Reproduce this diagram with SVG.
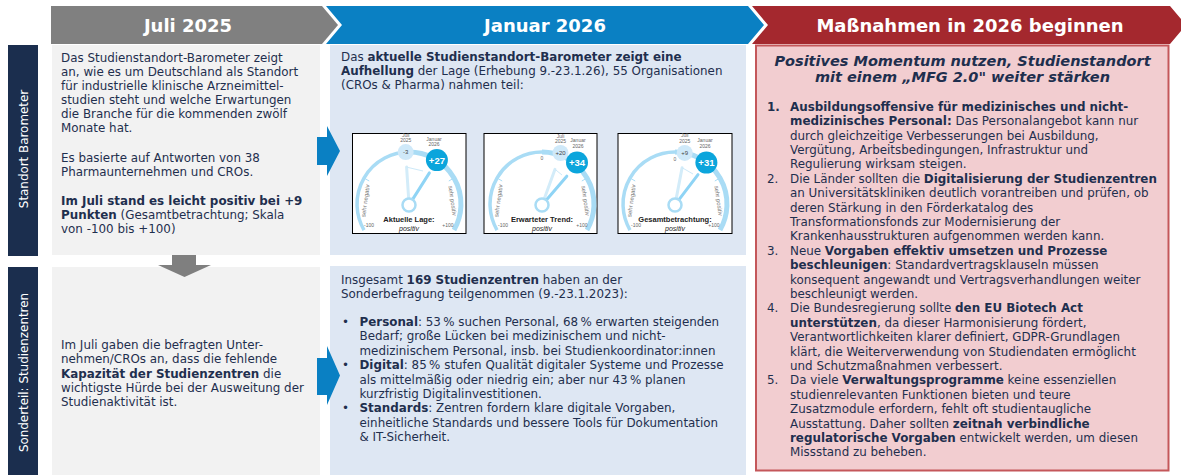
<svg xmlns="http://www.w3.org/2000/svg" width="1181" height="475" viewBox="0 0 1181 475">
<style>
.t{font-family:"DejaVu Sans",Verdana,sans-serif;font-size:11.9px;fill:#1f2f4e}
.b{font-weight:bold}
.hd{font-family:"DejaVu Sans",sans-serif;font-size:18px;font-weight:bold;fill:#fff;text-anchor:middle}
.vl{font-family:"DejaVu Sans",sans-serif;font-size:11.9px;fill:#fff;text-anchor:middle}
.ti{font-family:"DejaVu Sans",sans-serif;font-size:14.5px;font-weight:bold;font-style:italic;fill:#1f2f4e;text-anchor:middle}
.gbox{fill:#fff;stroke:#000;stroke-width:1}
.arcL{fill:none;stroke:#a9dcf5;stroke-width:3.5}
.arcR{fill:none;stroke:#a9dcf5;stroke-width:5}
.tick{stroke:#a9dcf5;stroke-width:1}
.gs{font-family:"Liberation Sans",Arial,sans-serif;font-size:5px;fill:#666;text-anchor:middle}
.gl{font-family:"Liberation Sans",Arial,sans-serif;font-size:6px;fill:#777;text-anchor:middle}
.old{stroke:#d3ecf9;stroke-width:3;stroke-linecap:round}
.mv{stroke:#cde9f8;stroke-width:1}
.new{stroke:#8fd4f5;stroke-width:3;stroke-linecap:round}
.hub{fill:#fff;stroke:#a9dcf5;stroke-width:2.5}
.sb{fill:#cfe9f9}
.bb{fill:#0ba5dc}
.sbt{font-family:"Liberation Sans",Arial,sans-serif;font-size:6px;fill:#444;text-anchor:middle}
.bbt{font-family:"Liberation Sans",Arial,sans-serif;font-size:9.5px;font-weight:bold;fill:#fff;text-anchor:middle}
.gt{font-family:"Liberation Sans",Arial,sans-serif;font-size:7.5px;font-weight:bold;fill:#222;text-anchor:middle}
.gp{font-family:"Liberation Sans",Arial,sans-serif;font-size:7px;font-style:italic;fill:#222;text-anchor:middle}
</style>

<!-- Header chevrons -->
<g id="header-juli">
<polygon points="51,6 322,6 338,25 322,44 51,44" fill="#808080"/>
<text class="hd" x="188" y="31.5">Juli 2025</text>
</g>
<g id="header-januar">
<polygon points="326,6 748,6 764,25 748,44 326,44 342,25" fill="#0a80c3"/>
<text class="hd" x="545" y="31.5">Januar 2026</text>
</g>
<g id="header-massnahmen">
<polygon points="752,6 1170,6 1186,25 1170,44 752,44 768,25" fill="#a4282e"/>
<text class="hd" x="970" y="31.5">Maßnahmen in 2026 beginnen</text>
</g>

<!-- Row labels -->
<g id="label-barometer">
<rect x="8" y="45" width="30" height="211" fill="#1b2e4e"/>
<text class="vl" transform="translate(27.5,149) rotate(-90)">Standort Barometer</text>
</g>
<g id="label-sonderteil">
<rect x="8" y="267" width="30" height="208" fill="#1b2e4e"/>
<text class="vl" transform="translate(27.5,372.5) rotate(-90)">Sonderteil: Studienzentren</text>
</g>

<!-- Left top panel -->
<g id="juli-barometer">
<rect x="52" y="45" width="268" height="210" fill="#f2f2f2"/>
<text class="t" x="61" y="62.3">Das Studienstandort-Barometer zeigt</text>
<text class="t" x="61" y="76.2">an, wie es um Deutschland als Standort</text>
<text class="t" x="61" y="90.1">für industrielle klinische Arzneimittel-</text>
<text class="t" x="61" y="104">studien steht und welche Erwartungen</text>
<text class="t" x="61" y="117.9">die Branche für die kommenden zwölf</text>
<text class="t" x="61" y="131.8">Monate hat.</text>
<text class="t" x="61" y="162.3">Es basierte auf Antworten von 38</text>
<text class="t" x="61" y="176.2">Pharmaunternehmen und CROs.</text>
<text class="t b" x="61" y="205.4">Im Juli stand es leicht positiv bei +9</text>
<text class="t" x="61" y="219.3"><tspan class="b">Punkten</tspan> (Gesamtbetrachtung; Skala</text>
<text class="t" x="61" y="233.2">von -100 bis +100)</text>
</g>

<!-- Left bottom panel -->
<g id="juli-studienzentren">
<rect x="52" y="267" width="268" height="208" fill="#f2f2f2"/>
<text class="t" x="61" y="349">Im Juli gaben die befragten Unter-</text>
<text class="t" x="61" y="363.3">nehmen/CROs an, dass die fehlende</text>
<text class="t" x="61" y="377.5"><tspan class="b">Kapazität der Studienzentren</tspan> die</text>
<text class="t" x="61" y="391.7">wichtigste Hürde bei der Ausweitung der</text>
<text class="t" x="61" y="406">Studienaktivität ist.</text>
</g>

<!-- Middle top panel -->
<g id="januar-barometer">
<rect x="330" y="45" width="416" height="210" fill="#dee7f3"/>
<text class="t" x="341" y="60.7">Das <tspan class="b">aktuelle Studienstandort-Barometer zeigt eine</tspan></text>
<text class="t" x="341" y="75"><tspan class="b">Aufhellung</tspan> der Lage (Erhebung 9.-23.1.26), 55 Organisationen</text>
<text class="t" x="341" y="89.3">(CROs &amp; Pharma) nahmen teil:</text>
</g>

<!-- Gauge 1 -->
<g id="gauge-aktuelle-lage">
<rect class="gbox" x="352.5" y="133.5" width="113.5" height="100"/>
<path class="arcL" d="M364 230 A52 52 0 0 1 409 152"/>
<path class="arcR" d="M409 152 A52 52 0 0 1 454 230"/>
<line class="tick" x1="364" y1="178" x2="369.2" y2="181"/>
<line class="tick" x1="454" y1="178" x2="448.8" y2="181"/>
<text class="gs" x="369" y="227">-100</text>
<text class="gs" x="448" y="227">+100</text>
<text class="gl" transform="translate(367.5,201) rotate(-82)">sehr negativ</text>
<text class="gl" transform="translate(450.5,201) rotate(82)">sehr positiv</text>
<line class="old" x1="408.6" y1="198" x2="406.6" y2="167.1"/>
<line class="mv" x1="406.6" y1="167.1" x2="423" y2="171"/>
<line class="new" x1="412.8" y1="199.1" x2="429.4" y2="172.9"/>
<circle class="hub" cx="409" cy="205" r="6.5"/>
<circle class="sb" cx="405.7" cy="152.1" r="8"/>
<text class="sbt" x="405.7" y="154.2">-3</text>
<circle class="bb" cx="436.9" cy="160.1" r="11"/>
<text class="bbt" x="436.9" y="163.5">+27</text>
<text class="gs" x="405.7" y="136.5">Juli</text>
<text class="gs" x="405.7" y="142">2025</text>
<text class="gs" x="434" y="140.5">Januar</text>
<text class="gs" x="434" y="146">2026</text>
<text class="gt" x="409" y="222">Aktuelle Lage:</text>
<text class="gp" x="409" y="230.5">positiv</text>
</g>

<!-- Gauge 2 -->
<g id="gauge-erwarteter-trend">
<rect class="gbox" x="484" y="133.5" width="113" height="100"/>
<path class="arcL" d="M497 230 A52 52 0 0 1 542 152"/>
<path class="arcR" d="M542 152 A52 52 0 0 1 587 230"/>
<line class="tick" x1="497" y1="178" x2="502.2" y2="181"/>
<line class="tick" x1="587" y1="178" x2="581.8" y2="181"/>
<text class="gs" x="542" y="160">0</text>
<text class="gs" x="503" y="227">-100</text>
<text class="gs" x="582" y="227">+100</text>
<text class="gl" transform="translate(500.5,201) rotate(-82)">sehr negativ</text>
<text class="gl" transform="translate(583.5,201) rotate(82)">sehr positiv</text>
<line class="old" x1="544.4" y1="198.4" x2="555" y2="169.3"/>
<line class="mv" x1="555" y1="169.3" x2="562" y2="175"/>
<line class="new" x1="546.6" y1="199.7" x2="566.8" y2="176.2"/>
<circle class="hub" cx="542" cy="205" r="6.5"/>
<circle class="sb" cx="560.5" cy="153" r="8"/>
<text class="sbt" x="560.5" y="155.1">+20</text>
<circle class="bb" cx="577" cy="162.5" r="11"/>
<text class="bbt" x="577" y="165.9">+34</text>
<text class="gs" x="560.5" y="137.5">Juli</text>
<text class="gs" x="560.5" y="143">2025</text>
<text class="gs" x="578" y="142">Januar</text>
<text class="gs" x="578" y="147.5">2026</text>
<text class="gt" x="542" y="222">Erwarteter Trend:</text>
<text class="gp" x="542" y="230.5">positiv</text>
</g>

<!-- Gauge 3 -->
<g id="gauge-gesamtbetrachtung">
<rect class="gbox" x="618" y="133.5" width="114" height="100"/>
<path class="arcL" d="M630 230 A52 52 0 0 1 675 152"/>
<path class="arcR" d="M675 152 A52 52 0 0 1 720 230"/>
<line class="tick" x1="630" y1="178" x2="635.2" y2="181"/>
<line class="tick" x1="720" y1="178" x2="714.8" y2="181"/>
<text class="gs" x="675" y="161">0</text>
<text class="gs" x="636" y="227">-100</text>
<text class="gs" x="714" y="227">+100</text>
<text class="gl" transform="translate(633.5,201) rotate(-82)">sehr negativ</text>
<text class="gl" transform="translate(716.5,201) rotate(82)">sehr positiv</text>
<line class="old" x1="676.3" y1="198.1" x2="682.1" y2="167.7"/>
<line class="mv" x1="682.1" y1="167.7" x2="693" y2="174"/>
<line class="new" x1="679.2" y1="199.4" x2="698" y2="174.7"/>
<circle class="hub" cx="675" cy="205" r="6.5"/>
<circle class="sb" cx="684.7" cy="152.9" r="8"/>
<text class="sbt" x="684.7" y="155">+9</text>
<circle class="bb" cx="706.4" cy="162.6" r="11"/>
<text class="bbt" x="706.4" y="166">+31</text>
<text class="gs" x="684.7" y="137.3">Juli</text>
<text class="gs" x="684.7" y="142.8">2025</text>
<text class="gs" x="705" y="142">Januar</text>
<text class="gs" x="705" y="147.5">2026</text>
<text class="gt" x="675" y="222">Gesamtbetrachtung:</text>
<text class="gp" x="675" y="230.5">positiv</text>
</g>

<!-- Middle bottom panel -->
<g id="januar-studienzentren">
<rect x="330" y="266" width="416" height="209" fill="#dee7f3"/>
<text class="t" x="341" y="284">Insgesamt <tspan class="b">169 Studienzentren</tspan> haben an der</text>
<text class="t" x="341" y="298.3">Sonderbefragung teilgenommen (9.-23.1.2023):</text>
<text class="t" x="342" y="326">•</text>
<text class="t" x="359.5" y="326"><tspan class="b">Personal</tspan>: 53&#8239;% suchen Personal, 68&#8239;% erwarten steigenden</text>
<text class="t" x="359.5" y="340.4">Bedarf; große Lücken bei medizinischem und nicht-</text>
<text class="t" x="359.5" y="354.8">medizinischem Personal, insb. bei Studienkoordinator:innen</text>
<text class="t" x="342" y="369.2">•</text>
<text class="t" x="359.5" y="369.2"><tspan class="b">Digital</tspan>: 85&#8239;% stufen Qualität digitaler Systeme und Prozesse</text>
<text class="t" x="359.5" y="383.6">als mittelmäßig oder niedrig ein; aber nur 43&#8239;% planen</text>
<text class="t" x="359.5" y="398">kurzfristig Digitalinvestitionen.</text>
<text class="t" x="342" y="412.4">•</text>
<text class="t" x="359.5" y="412.4"><tspan class="b">Standards</tspan>: Zentren fordern klare digitale Vorgaben,</text>
<text class="t" x="359.5" y="426.8">einheitliche Standards und bessere Tools für Dokumentation</text>
<text class="t" x="359.5" y="441.2">&amp; IT-Sicherheit.</text>
</g>

<!-- Right panel -->
<g id="massnahmen">
<rect x="756" y="45.5" width="412.5" height="425" fill="#f2cdd0" stroke="#c4575a" stroke-width="2"/>
<text class="ti" x="962.5" y="65.5">Positives Momentum nutzen, Studienstandort</text>
<text class="ti" x="962.5" y="82">mit einem „MFG 2.0" weiter stärken</text>
<text class="t b" x="767" y="110.8">1.</text>
<text class="t b" x="790" y="110.8">Ausbildungsoffensive für medizinisches und nicht-</text>
<text class="t" x="790" y="125.2"><tspan class="b">medizinisches Personal:</tspan> Das Personalangebot kann nur</text>
<text class="t" x="790" y="139.6">durch gleichzeitige Verbesserungen bei Ausbildung,</text>
<text class="t" x="790" y="154">Vergütung, Arbeitsbedingungen, Infrastruktur und</text>
<text class="t" x="790" y="168.4">Regulierung wirksam steigen.</text>
<text class="t" x="767" y="182.8">2.</text>
<text class="t" x="790" y="182.8">Die Länder sollten die <tspan class="b">Digitalisierung der Studienzentren</tspan></text>
<text class="t" x="790" y="197.2">an Universitätskliniken deutlich vorantreiben und prüfen, ob</text>
<text class="t" x="790" y="211.6">deren Stärkung in den Förderkatalog des</text>
<text class="t" x="790" y="226">Transformationsfonds zur Modernisierung der</text>
<text class="t" x="790" y="240.4">Krankenhausstrukturen aufgenommen werden kann.</text>
<text class="t" x="767" y="254.8">3.</text>
<text class="t" x="790" y="254.8">Neue <tspan class="b">Vorgaben effektiv umsetzen und Prozesse</tspan></text>
<text class="t" x="790" y="269.2"><tspan class="b">beschleunigen</tspan>: Standardvertragsklauseln müssen</text>
<text class="t" x="790" y="283.6">konsequent angewandt und Vertragsverhandlungen weiter</text>
<text class="t" x="790" y="298">beschleunigt werden.</text>
<text class="t" x="767" y="312.4">4.</text>
<text class="t" x="790" y="312.4">Die Bundesregierung sollte <tspan class="b">den EU Biotech Act</tspan></text>
<text class="t" x="790" y="326.8"><tspan class="b">unterstützen</tspan>, da dieser Harmonisierung fördert,</text>
<text class="t" x="790" y="341.2">Verantwortlichkeiten klarer definiert, GDPR-Grundlagen</text>
<text class="t" x="790" y="355.6">klärt, die Weiterverwendung von Studiendaten ermöglicht</text>
<text class="t" x="790" y="370">und Schutzmaßnahmen verbessert.</text>
<text class="t" x="767" y="384.4">5.</text>
<text class="t" x="790" y="384.4">Da viele <tspan class="b">Verwaltungsprogramme</tspan> keine essenziellen</text>
<text class="t" x="790" y="398.8">studienrelevanten Funktionen bieten und teure</text>
<text class="t" x="790" y="413.2">Zusatzmodule erfordern, fehlt oft studientaugliche</text>
<text class="t" x="790" y="427.6">Ausstattung. Daher sollten <tspan class="b">zeitnah verbindliche</tspan></text>
<text class="t" x="790" y="442"><tspan class="b">regulatorische Vorgaben</tspan> entwickelt werden, um diesen</text>
<text class="t" x="790" y="456.4">Missstand zu beheben.</text>
</g>

<!-- Connectors -->
<g id="connectors">
<polygon points="172,255 196,255 196,265 211,265 184.5,277 158,265 172,265" fill="#7f7f7f"/>
<polygon points="317,137 327,137 327,126 340,151 327,176 327,165 317,165" fill="#0a80c3"/>
<polygon points="317,358 327,358 327,346 340,375.5 327,405 327,395 317,395" fill="#0a80c3"/>
</g>
</svg>
